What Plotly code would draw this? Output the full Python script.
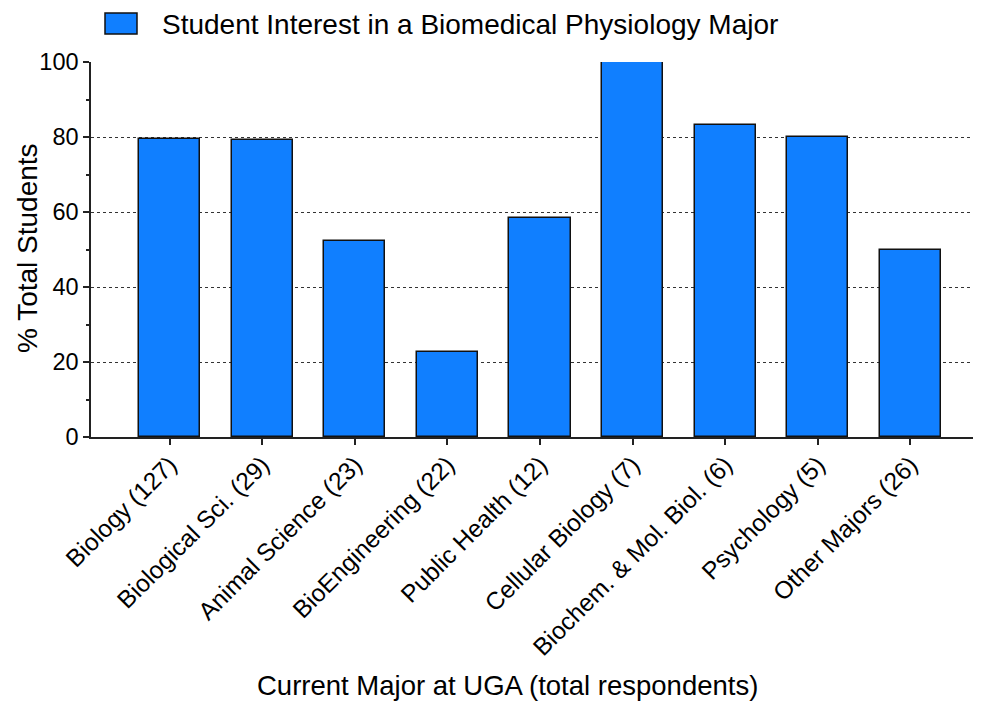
import plotly.graph_objects as go

categories = ["Biology (127)", "Biological Sci. (29)", "Animal Science (23)",
              "BioEngineering (22)", "Public Health (12)", "Cellular Biology (7)",
              "Biochem. & Mol. Biol. (6)", "Psychology (5)", "Other Majors (26)"]
values = [79.5, 79.3, 52.2, 22.7, 58.3, 100.0, 83.3, 80.0, 50.0]
series_name = "Student Interest in a Biomedical Physiology Major"
x_title = "Current Major at UGA (total respondents)"
y_title = "% Total Students"
y_ticks = [0, 20, 40, 60, 80, 100]

BLUE = "#107FFF"
FONT = "Liberation Sans, Arial, sans-serif"

fig = go.Figure()
fig.add_trace(go.Bar(
    x=list(range(len(categories))), y=values, width=0.66,
    marker=dict(color=BLUE, line=dict(color="#111111", width=1.5)),
    name=series_name, showlegend=False,
))

fig.update_layout(
    width=973, height=694,
    margin=dict(l=83, r=2, t=54, b=265),
    plot_bgcolor="white", paper_bgcolor="white",
    font=dict(family=FONT, color="black", size=23),
    bargap=0,
    xaxis=dict(
        range=[-0.848, 8.74],
        tickmode="array", tickvals=list(range(len(categories))), ticktext=categories,
        tickangle=-45, ticks="outside", ticklen=6, tickwidth=1.5, tickcolor="#222",
        ticklabelstandoff=-4,
        showline=True, linecolor="#222", linewidth=1.5,
        showgrid=False, zeroline=False,
        tickfont=dict(size=24.5, family=FONT),
    ),
    yaxis=dict(
        range=[0, 100],
        tickmode="array", tickvals=y_ticks,
        ticks="outside", ticklen=6, tickwidth=1.5, tickcolor="#222",
        minor=dict(tickmode="array", tickvals=[10, 30, 50, 70, 90],
                   ticks="outside", ticklen=3, tickwidth=1.5, tickcolor="#222",
                   showgrid=False),
        showline=True, linecolor="#222", linewidth=1.5,
        showgrid=True, gridcolor="#333", gridwidth=1, griddash="dot",
        zeroline=False,
        tickfont=dict(size=23.5, family=FONT),
    ),
)

# legend (manual)
fig.add_shape(type="rect", xref="paper", yref="paper",
              x0=(105 - 91) / 888, x1=(137 - 91) / 888,
              y0=(437 - 34) / 375, y1=(437 - 13) / 375,
              fillcolor=BLUE, line=dict(color="#111111", width=1.5))
fig.add_annotation(xref="paper", yref="paper", x=(160 - 91) / 888, y=(437 - 24) / 375,
                   text=series_name, showarrow=False, xanchor="left", yanchor="middle",
                   font=dict(size=28, family=FONT))

# axis titles
fig.add_annotation(xref="paper", yref="paper", x=(507 - 91) / 888, y=(437 - 685) / 375,
                   text=x_title, showarrow=False, xanchor="center", yanchor="middle",
                   borderpad=0,
                   font=dict(size=27.5, family=FONT))
fig.add_annotation(xref="paper", yref="paper", x=(27 - 91) / 888, y=(437 - 248) / 375,
                   text=y_title, showarrow=False, textangle=-90,
                   xanchor="center", yanchor="middle",
                   font=dict(size=28, family=FONT))

fig.write_html("out.html")
